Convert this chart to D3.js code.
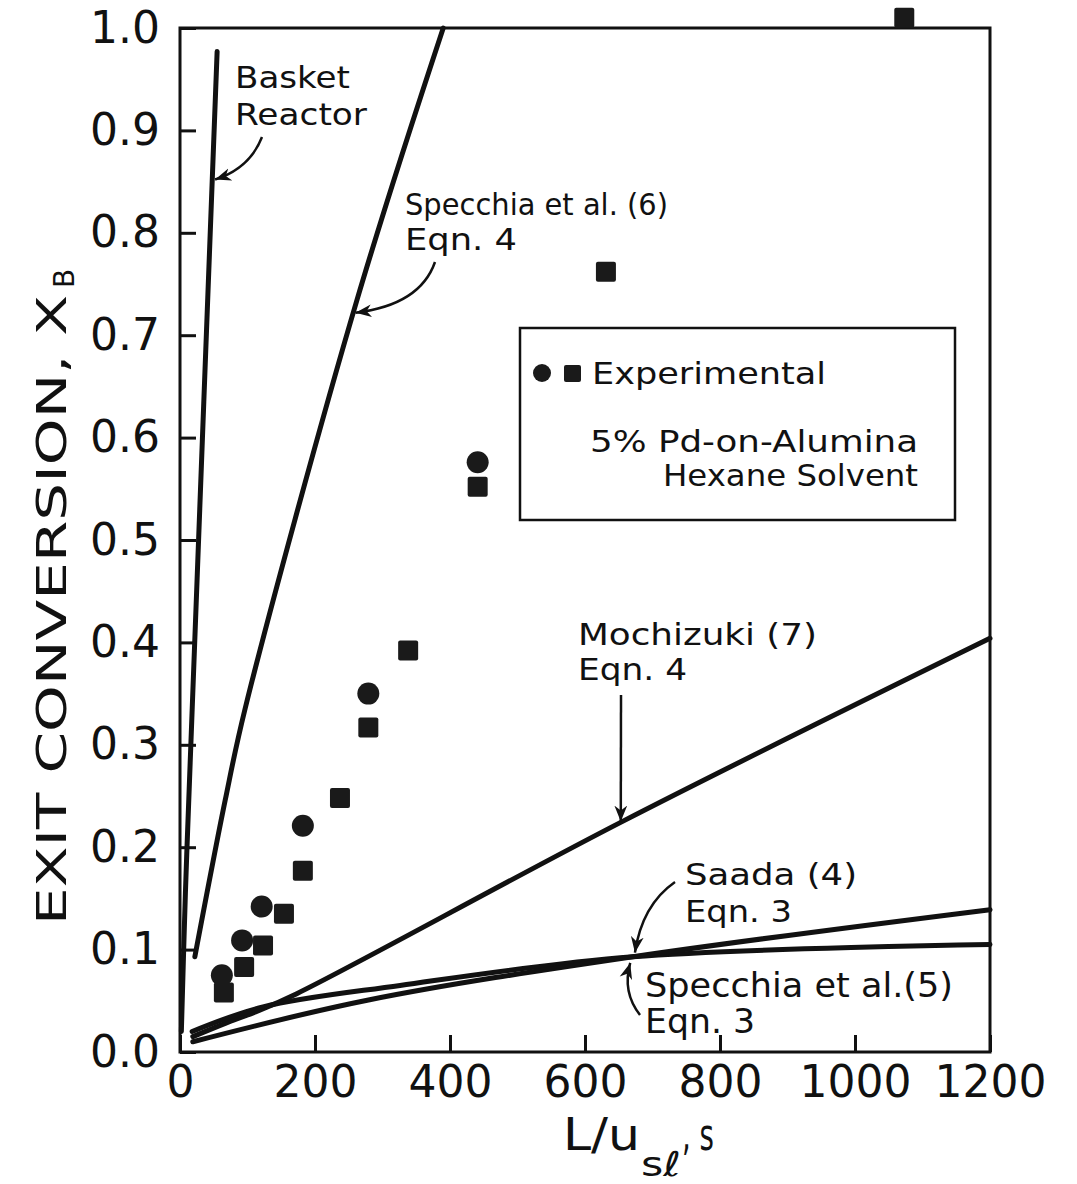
<!DOCTYPE html>
<html>
<head>
<meta charset="utf-8">
<script src="https://cdn.jsdelivr.net/npm/d3@7"></script>
<style>
body { margin: 0; background: #fff; }
text { font-family: "DejaVu Sans", sans-serif; fill: #111; }
.curve { fill: none; stroke: #111; stroke-width: 5; stroke-linecap: round; stroke-linejoin: round; }
.arrow { fill: none; stroke: #111; stroke-width: 2.5; }
</style>
</head>
<body>
<div id="chart"></div>
<script>
// values
var xTicks = [0, 200, 400, 600, 800, 1000, 1200];
var yTicks = [0, 0.1, 0.2, 0.3, 0.4, 0.5, 0.6, 0.7, 0.8, 0.9, 1.0];

// experimental points (circles and squares)
var circleX = [62, 92, 121, 182, 279, 441];
var circleY = [0.075, 0.109, 0.142, 0.221, 0.350, 0.576];
var squareX = [65, 95, 123, 154, 182, 237, 279, 338, 441, 631, 1073];
var squareY = [0.058, 0.083, 0.104, 0.135, 0.177, 0.248, 0.317, 0.392, 0.552, 0.762, 1.010];

// model curves
var basketX = [2, 8, 18, 55];
var basketY = [0.02, 0.155, 0.334, 0.977];
var specchia6X = [22, 67, 96, 262, 390];
var specchia6Y = [0.093, 0.246, 0.334, 0.734, 1.0];
var mochizukiX = [19, 67, 111, 173, 655, 1200];
var mochizukiY = [0.015, 0.028, 0.039, 0.057, 0.225, 0.404];
var specchia5X = [18, 123, 326, 671, 1200];
var specchia5Y = [0.020, 0.044, 0.065, 0.093, 0.105];
var saadaX = [19, 281, 671, 1200];
var saadaY = [0.010, 0.051, 0.093, 0.139];

var width = 1077, height = 1184;

var svg = d3.select("#chart").append("svg")
    .attr("width", width)
    .attr("height", height);

svg.append("rect").attr("width", width).attr("height", height).attr("fill", "#fff");

var x = d3.scaleLinear().domain([0, 1200]).range([180, 990]);
var y = d3.scaleLinear().domain([0, 1]).range([1052, 28]);

// arrow head
svg.append("defs").append("marker")
    .attr("id", "head")
    .attr("viewBox", "0 0 10 10")
    .attr("refX", 10).attr("refY", 5)
    .attr("markerWidth", 16).attr("markerHeight", 16)
    .attr("markerUnits", "userSpaceOnUse")
    .attr("orient", "auto")
    .append("path")
    .attr("d", "M0,1 L10,5 L0,9 L3,5 z")
    .attr("fill", "#111");

// axes, ticks pointing inward
var xAxis = d3.axisBottom(x).tickValues(xTicks).tickSize(-17).tickPadding(14).tickFormat(d3.format("d"));
var yAxis = d3.axisLeft(y).tickValues(yTicks).tickSize(-16).tickPadding(20).tickFormat(d3.format(".1f"));

var gx = svg.append("g").attr("transform", "translate(0," + y(0) + ")").call(xAxis);
var gy = svg.append("g").attr("transform", "translate(" + x(0) + ",0)").call(yAxis);
[gx, gy].forEach(function(g) {
    g.select(".domain").remove();
    g.selectAll("line").attr("stroke", "#111").attr("stroke-width", 3);
    g.selectAll("text").attr("font-size", 44).attr("fill", "#111")
        .style("font-family", "'DejaVu Sans', sans-serif");
});

// frame
svg.append("rect")
    .attr("x", x(0)).attr("y", y(1))
    .attr("width", x(1200) - x(0)).attr("height", y(0) - y(1))
    .attr("fill", "none").attr("stroke", "#111").attr("stroke-width", 3);

// curves
var line = d3.line()
    .x(function(d) { return x(d[0]); })
    .y(function(d) { return y(d[1]); })
    .curve(d3.curveCatmullRom);

function pairs(xs, ys) { return xs.map(function(v, i) { return [v, ys[i]]; }); }

[[basketX, basketY], [specchia6X, specchia6Y], [mochizukiX, mochizukiY],
 [specchia5X, specchia5Y], [saadaX, saadaY]].forEach(function(s) {
    svg.append("path").attr("class", "curve").attr("d", line(pairs(s[0], s[1])));
});

// points
svg.selectAll(".pt-c").data(pairs(circleX, circleY)).enter().append("circle")
    .attr("class", "pt-c")
    .attr("cx", function(d) { return x(d[0]); })
    .attr("cy", function(d) { return y(d[1]); })
    .attr("r", 11).attr("fill", "#1a1a1a");

svg.selectAll(".pt-s").data(pairs(squareX, squareY)).enter().append("rect")
    .attr("class", "pt-s")
    .attr("x", function(d) { return x(d[0]) - 10; })
    .attr("y", function(d) { return y(d[1]) - 10; })
    .attr("width", 20).attr("height", 20).attr("rx", 2)
    .attr("fill", "#1a1a1a");

// annotation text
function label(tx, ty, str, size, len) {
    return svg.append("text").attr("x", tx).attr("y", ty)
        .attr("font-size", size)
        .attr("textLength", len).attr("lengthAdjust", "spacingAndGlyphs")
        .text(str);
}

label(235, 88, "Basket", 31, 115);
label(235, 125, "Reactor", 31, 132);
label(405, 215, "Specchia et al. (6)", 31, 263);
label(405, 250, "Eqn. 4", 31, 112);
label(578, 645, "Mochizuki (7)", 31, 239);
label(578, 680, "Eqn. 4", 31, 109);
label(685, 885, "Saada (4)", 31, 172);
label(685, 922, "Eqn. 3", 31, 107);
label(645, 997, "Specchia et al.(5)", 33, 308);
label(645, 1033, "Eqn. 3", 33, 110);

// annotation arrows
function arrow(sx, sy, cx, cy, tipX, tipY) {
    var tx = x(tipX), ty = y(tipY);
    var d = cx == null ? "M" + sx + "," + sy + " L" + tx + "," + ty
        : "M" + sx + "," + sy + " Q" + cx + "," + cy + " " + tx + "," + ty;
    svg.append("path").attr("class", "arrow").attr("d", d).attr("marker-end", "url(#head)");
}
arrow(262, 137, 250, 168, 52, 0.852);
arrow(435, 262, 420, 305, 260, 0.722);
arrow(621, 695, null, null, 653, 0.225);
arrow(675, 882, 642, 905, 674, 0.097);
arrow(640, 1015, 622, 992, 667, 0.087);

// legend box
svg.append("rect")
    .attr("x", 520).attr("y", 328).attr("width", 435).attr("height", 192)
    .attr("fill", "#fff").attr("stroke", "#111").attr("stroke-width", 2.5);
svg.append("circle").attr("cx", 542).attr("cy", 373).attr("r", 9).attr("fill", "#1a1a1a");
svg.append("rect").attr("x", 564).attr("y", 365).attr("width", 17).attr("height", 17)
    .attr("rx", 2).attr("fill", "#1a1a1a");
label(592, 384, "Experimental", 30, 234);
label(590, 452, "5% Pd-on-Alumina", 30, 328);
label(663, 486, "Hexane Solvent", 30, 255);

// axis titles
svg.append("text")
    .attr("transform", "translate(66,925) rotate(-90)")
    .attr("font-size", 40)
    .attr("textLength", 630).attr("lengthAdjust", "spacingAndGlyphs")
    .text("EXIT CONVERSION, X");
svg.append("text")
    .attr("transform", "translate(74,288) rotate(-90)")
    .attr("font-size", 28)
    .text("B");

svg.append("text").attr("x", 563).attr("y", 1150).attr("font-size", 44)
    .attr("textLength", 77).attr("lengthAdjust", "spacingAndGlyphs").text("L/u");
svg.append("text").attr("x", 641).attr("y", 1176).attr("font-size", 34)
    .attr("textLength", 40).attr("lengthAdjust", "spacingAndGlyphs").text("sℓ");
svg.append("text").attr("x", 682).attr("y", 1150).attr("font-size", 44)
    .attr("textLength", 32).attr("lengthAdjust", "spacingAndGlyphs").text(", s");
</script>
</body>
</html>
